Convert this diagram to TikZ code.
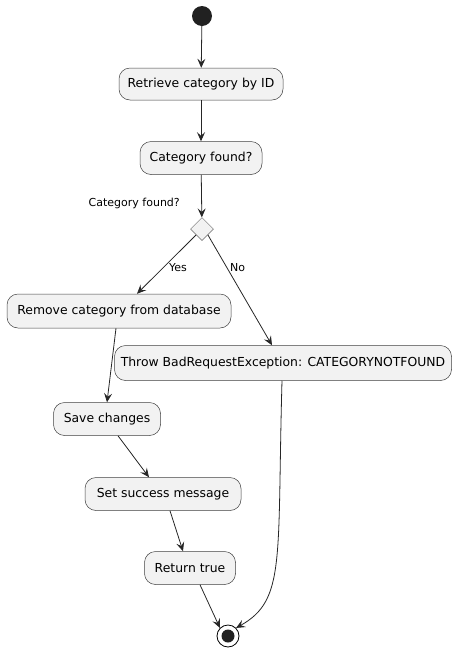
\documentclass[tikz,border=0pt]{standalone}
\usepackage{fontspec}
\setmainfont{DejaVu Sans}
\usetikzlibrary{arrows.meta,calc,shapes.geometric}
\begin{document}
\begin{tikzpicture}[x=1pt,y=-1pt,
  act/.style={draw=black!75,line width=0.5pt,fill=black!5,rounded corners=11pt,inner sep=0pt,font=\fontsize{12.4}{14}\selectfont},
  flow/.style={draw=black!85,line width=0.8pt,-{Stealth[length=9pt,width=8pt,inset=3.5pt]}},
  lbl/.style={font=\fontsize{11}{13}\selectfont,inner sep=0pt}]
\useasboundingbox (0,0) rectangle (457,654);
\node[circle,fill=black!87,minimum size=20pt,inner sep=0pt] (start) at (202,16) {};
\node[act,minimum width=164pt,minimum height=32pt] (ret) at (201,84) {Retrieve category by ID};
\node[act,minimum width=122pt,minimum height=33pt] (cf) at (201,158) {Category found?};
\node[diamond,draw=black!60,line width=0.5pt,fill=black!5,minimum size=23pt,inner sep=0pt] (dia) at (202,229) {};
\node[lbl,anchor=east] (dl) at (180,203) {Category found?};
\node[act,minimum width=224pt,minimum height=34pt] (rem) at (119,311) {Remove category from database};
\node[act,minimum width=337pt,minimum height=35pt] (thr) at (283,363) {Throw BadRequestException: CATEGORYNOTFOUND};
\node[act,minimum width=107pt,minimum height=33pt] (save) at (107,419) {Save changes};
\node[act,minimum width=156pt,minimum height=33pt] (set) at (163,494) {Set success message};
\node[act,minimum width=91pt,minimum height=33pt] (retn) at (190,568) {Return true};
\node[circle,draw=black,line width=0.8pt,fill=white,minimum size=22pt,inner sep=0pt] (end) at (228,636) {};
\node[circle,fill=black!87,minimum size=13pt,inner sep=0pt] at (end) {};
\node[lbl,anchor=west] (yes) at (169,268) {Yes};
\node[lbl,anchor=west] (no) at (230,268) {No};
\draw[flow] (start) -- (ret);
\draw[flow] (ret) -- (cf);
\draw[flow] (cf) -- (dia);
\draw[flow] (dia.south west) -- ($(rem.north)+(18,0)$);
\draw[flow] (dia.south east) -- ($(thr.north)+(-11,0)$);
\draw[flow] ($(rem.south)+(-3,0)$) -- (save.north);
\draw[flow] ($(save.south)+(11,0)$) -- ($(set.north)+(-14,0)$);
\draw[flow] ($(set.south)+(7,0)$) -- ($(retn.north)+(-7,0)$);
\draw[flow] ($(retn.south)+(10,0)$) -- (end.north west);
\draw[flow] ($(thr.south)+(-1,0)$) .. controls (277,560) and (286,600) .. (end.north east);
\end{tikzpicture}
\end{document}
